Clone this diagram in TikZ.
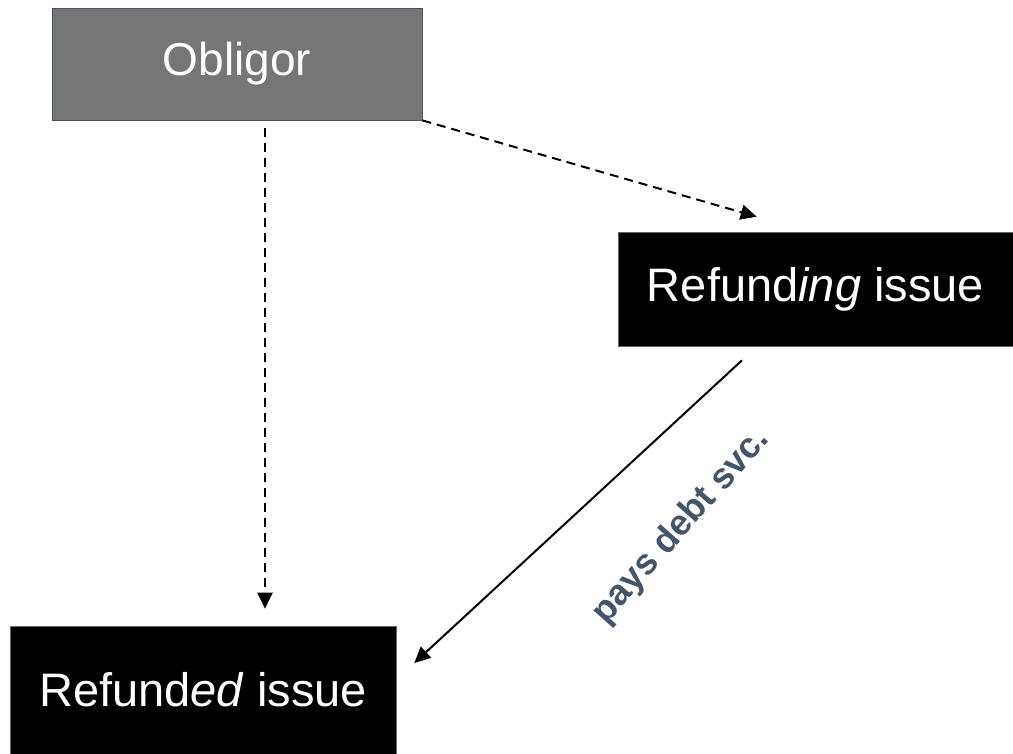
\documentclass[tikz,border=0pt]{standalone}
\usepackage{fontspec}
\setmainfont{Liberation Sans}
\usetikzlibrary{arrows.meta,positioning}
\definecolor{ObligorClr}{RGB}{118,118,118}
\definecolor{EdgeClr}{RGB}{68,84,106}
\definecolor{LabelClr}{RGB}{68,84,106}

\tikzset{
  partybox/.style={draw=EdgeClr,line width=0.8pt,fill=ObligorClr,text=white,
    minimum width=370pt,minimum height=112pt,inner sep=0pt,font=\fontsize{46}{54}\selectfont},
  issuebox/.style={draw=black!60,line width=0.6pt,fill=black,text=white,inner sep=0pt,
    font=\fontsize{47}{56}\selectfont},
  flow/.style={line width=2pt,-{Triangle[length=16pt,width=15pt]}},
  flowdash/.style={flow,dash pattern=on 9pt off 6pt},
  flowlabel/.style={text=LabelClr,inner sep=0pt,font=\bfseries\fontsize{36}{42}\selectfont}
}

\begin{document}
\begin{tikzpicture}[x=1pt,y=-1pt]
\useasboundingbox (0,0) rectangle (1013,754);

\node[partybox] (obligor) at (237,64) {Obligor};
\node[issuebox,minimum width=395pt,minimum height=114pt] (refunding) at (815.5,289) {Refund\textit{ing} issue};
\node[issuebox,minimum width=386pt,minimum height=128pt] (refunded) at (203,690) {Refund\textit{ed} issue};

% obligor to both issues
\draw[flowdash] ([xshift=28pt,yshift=-8pt]obligor.south) -- ([xshift=62pt,yshift=17pt]refunded.north);
\draw[flowdash] (obligor.south east) -- ([xshift=139pt,yshift=15pt]refunding.north west);

% debt service
\draw[flow] ([xshift=-73.5pt,yshift=-14pt]refunding.south) -- ([xshift=18pt,yshift=27pt]refunded.east)
  node[flowlabel,pos=0.35,xshift=54pt,yshift=-60pt,rotate=48.5] (svc) {pays debt svc.};

\end{tikzpicture}
\end{document}
